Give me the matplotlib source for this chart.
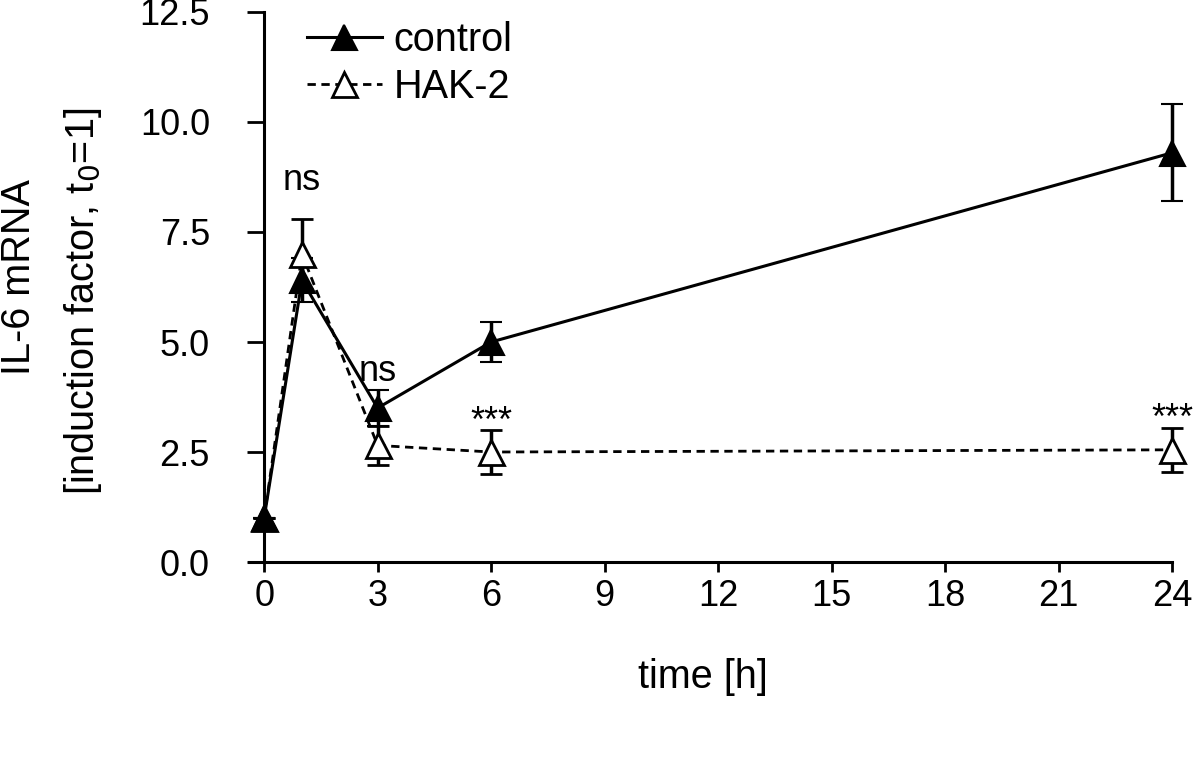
import matplotlib
matplotlib.use('Agg')
import matplotlib.pyplot as plt
from matplotlib.lines import Line2D

# ── Data ──────────────────────────────────────────────────────────────────────
time_h      = [0, 1, 3, 6, 24]
control     = [1.0, 6.4, 3.5, 5.0, 9.3]
control_err = [0.0, 0.5, 0.4, 0.45, 1.1]
hak2        = [1.0, 7.0, 2.65, 2.5, 2.55]
hak2_err    = [0.0, 0.8, 0.45, 0.5, 0.5]

sig_x      = [1, 3, 6, 24]
sig_y      = [8.45, 4.12, 2.95, 3.02]
sig_labels = ['ns', 'ns', '***', '***']

xticks = [0, 3, 6, 9, 12, 15, 18, 21, 24]
yticks = [0.0, 2.5, 5.0, 7.5, 10.0, 12.5]

FS_TICK = 26
FS_LAB = 28.5
plt.rcParams.update({
    'font.family': ['Liberation Sans', 'DejaVu Sans'],
    'font.size': FS_TICK,
})

fig = plt.figure(figsize=(12, 7.63), dpi=100)
ax = fig.add_axes([0.2075, 0.2634, 0.7692, 0.7209])

# ── Series ────────────────────────────────────────────────────────────────────
ctrl_style = dict(color='black', lw=2.2, marker='^', ms=18,
                  mfc='black', mec='black', mew=1.5)
hak_style = dict(color='black', lw=2.0, ls=(0, (3, 2)), marker='^', ms=18,
                 mfc='white', mec='black', mew=2.0)

ax.errorbar(time_h, control, yerr=control_err, **ctrl_style,
            capsize=8, capthick=2.5, elinewidth=2.5,
            clip_on=False, zorder=3)
ax.errorbar(time_h, hak2, yerr=hak2_err, **hak_style,
            capsize=8, capthick=2.5, elinewidth=2.5,
            clip_on=False, zorder=4)
# t0 control marker sits on top of the (identical) HAK-2 start point
ax.plot(time_h[:1], control[:1], ls='none', marker='^', ms=18,
        mfc='black', mec='black', clip_on=False, zorder=5)

for x, y, s in zip(sig_x, sig_y, sig_labels):
    ax.text(x, y, s, ha='center', va='baseline', fontsize=FS_TICK)

# ── Axes ──────────────────────────────────────────────────────────────────────
ax.set_xlim(-0.4, 24)
ax.set_ylim(0, 12.5)
ax.spines['left'].set_position(('data', 0))
ax.spines['top'].set_visible(False)
ax.spines['right'].set_visible(False)
for sp in ['left', 'bottom']:
    ax.spines[sp].set_linewidth(2.2)

ax.set_xticks(xticks)
ax.set_xticklabels([str(t) for t in xticks])
ax.set_yticks(yticks)
ax.set_yticklabels([f'{v:.1f}' for v in yticks])
ax.tick_params(axis='x', direction='out', length=7, width=2, pad=5)
ax.tick_params(axis='y', direction='out', length=12, width=2, pad=27)

ax.set_xlabel('time [h]', fontsize=FS_LAB)
ax.xaxis.set_label_coords(0.492, -0.175)
fig.text(0.016, 0.637, 'IL-6 mRNA', rotation=90, ha='center', va='center',
         fontsize=FS_LAB)
fig.text(0.069, 0.605, '[induction factor, t$_0$=1]', rotation=90,
         ha='center', va='center', fontsize=FS_LAB)

handles = [Line2D([], [], **ctrl_style), Line2D([], [], **hak_style)]
ax.legend(handles, ['control', 'HAK-2'], loc='upper left',
          bbox_to_anchor=(0.024, 1.048), frameon=False,
          handlelength=1.9, handletextpad=0.3, labelspacing=0.22,
          fontsize=FS_LAB)

fig.savefig('out.png', dpi=100)
